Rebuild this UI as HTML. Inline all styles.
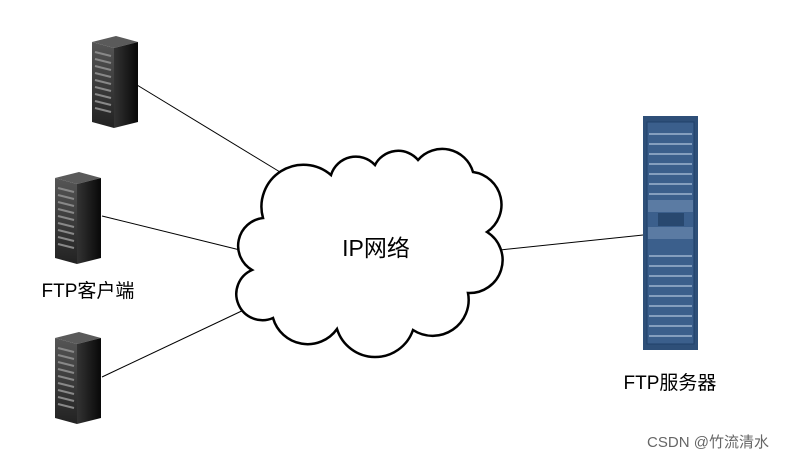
<!DOCTYPE html>
<html><head><meta charset="utf-8"><style>
body{margin:0;background:#fff;width:791px;height:460px;overflow:hidden;font-family:"Liberation Sans","Noto Sans CJK SC",sans-serif}
</style></head><body>
<svg width="791" height="460" xmlns="http://www.w3.org/2000/svg">
<defs>
<linearGradient id="side" x1="0" x2="1"><stop offset="0" stop-color="#333"/><stop offset="1" stop-color="#080808"/></linearGradient>
<linearGradient id="front" x1="0" x2="0" y1="0" y2="1"><stop offset="0" stop-color="#555"/><stop offset="1" stop-color="#222"/></linearGradient>
<g id="srv">
<polygon points="0,6 24,0 46,6 22,12" fill="#5a5a5a"/>
<polygon points="22,12 46,6 46,86 22,92" fill="url(#side)"/>
<polygon points="0,6 22,12 22,92 0,86" fill="url(#front)"/>
<g stroke="#888" stroke-width="2">
<line x1="3" y1="16" x2="19" y2="20"/><line x1="3" y1="23" x2="19" y2="27"/><line x1="3" y1="30" x2="19" y2="34"/><line x1="3" y1="37" x2="19" y2="41"/><line x1="3" y1="44" x2="19" y2="48"/><line x1="3" y1="51" x2="19" y2="55"/><line x1="3" y1="58" x2="19" y2="62"/><line x1="3" y1="65" x2="19" y2="69"/><line x1="3" y1="72" x2="19" y2="76"/>
</g></g>
</defs>
<g stroke="#000" stroke-width="1">
<line x1="137" y1="85" x2="280" y2="172"/>
<line x1="102" y1="216" x2="240" y2="250"/>
<line x1="102" y1="377" x2="248" y2="308"/>
<line x1="500" y1="250" x2="643" y2="235"/>
</g>
<use href="#srv" x="92" y="36"/>
<use href="#srv" x="55" y="172"/>
<use href="#srv" x="55" y="332"/>
<path d="M263,218 A42,42 0 0 1 331,175 A26,26 0 0 1 375,165 A26,26 0 0 1 418,160 A32,32 0 0 1 473,172 A33,33 0 0 1 487,232 A33,33 0 0 1 468,293 A36,36 0 0 1 413,330 A40,40 0 0 1 337,329 A36,36 0 0 1 273,318 A26,26 0 0 1 252,270 A28,28 0 0 1 263,218 Z" fill="#fff" stroke="#000" stroke-width="2.5"/>
<text x="376" y="256" font-size="23" text-anchor="middle" font-family="Liberation Sans,Noto Sans CJK SC,sans-serif">IP网络</text>
<text x="88" y="297" font-size="19" text-anchor="middle" font-family="Liberation Sans,Noto Sans CJK SC,sans-serif">FTP客户端</text>
<text x="670" y="389" font-size="19" text-anchor="middle" font-family="Liberation Sans,Noto Sans CJK SC,sans-serif">FTP服务器</text>
<text x="708" y="447" font-size="15" fill="#666" text-anchor="middle" font-family="Liberation Sans,Noto Sans CJK SC,sans-serif">CSDN @竹流清水</text>
<rect x="643" y="116" width="55" height="234" fill="#2e4f78"/>
<rect x="647" y="122" width="47" height="222" fill="#3b5f8c" stroke="#20406a" stroke-width="1"/>
<g stroke="#9db3cf" stroke-width="1.5">
<path d="M649 134h43M649 144h43M649 154h43M649 164h43M649 174h43M649 184h43M649 194h43M649 256h43M649 266h43M649 276h43M649 286h43M649 296h43M649 306h43M649 316h43M649 326h43M649 336h43"/>
</g>
<rect x="648" y="200" width="45" height="12" fill="#5b7ba3"/>
<rect x="658" y="213" width="26" height="13" fill="#28486f"/>
<rect x="648" y="227" width="45" height="12" fill="#5b7ba3"/>
</svg>
</body></html>
